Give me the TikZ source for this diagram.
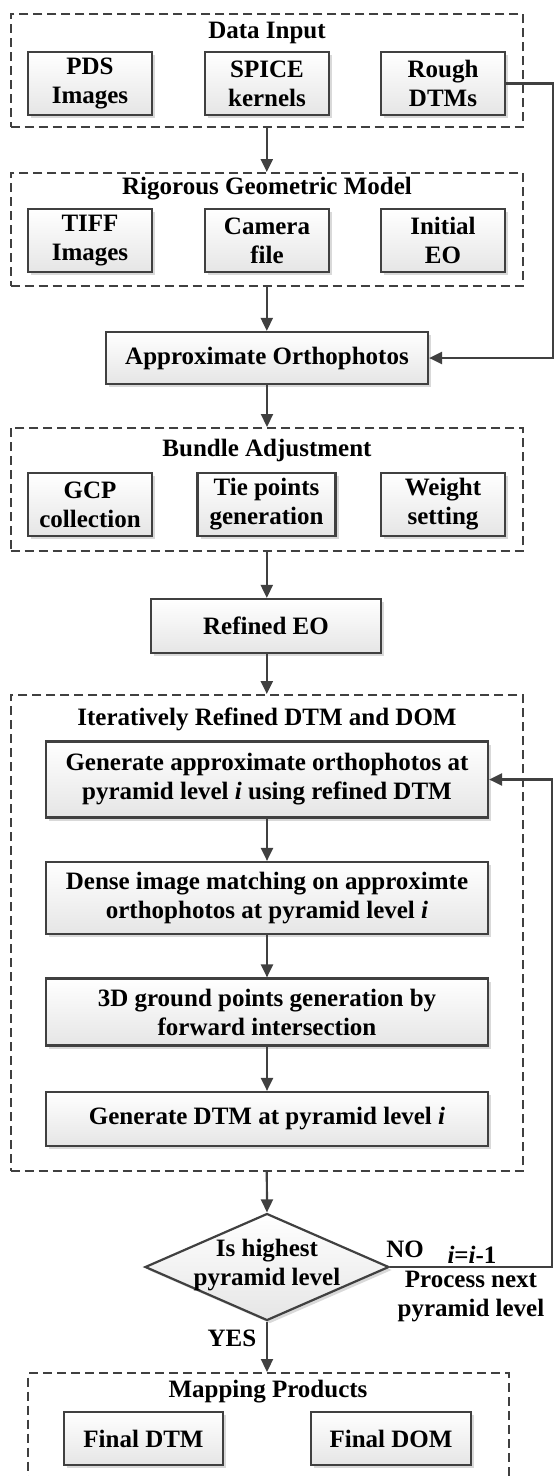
\documentclass[tikz,border=0pt]{standalone}
\usepackage{fontspec}
\setmainfont{Liberation Serif}
\usetikzlibrary{arrows.meta,shadows,shapes.geometric}
\definecolor{edge}{HTML}{404040}
\tikzset{
  box/.style={draw=edge, line width=2.2pt, top color=white, bottom color=black!10,
    drop shadow={shadow xshift=3pt, shadow yshift=-3pt, fill=black!15, opacity=1},
    align=center, inner sep=2pt, font=\bfseries\fontsize{25}{29}\selectfont},
  group/.style={draw=edge, line width=2pt, dash pattern=on 9pt off 5pt},
  ttl/.style={font=\bfseries\fontsize{25}{29}\selectfont, inner sep=0pt},
  lbl/.style={font=\bfseries\fontsize{25}{29}\selectfont, inner sep=0pt, align=center},
  arr/.style={draw=edge, line width=2.2pt, -{Triangle[length=13pt,width=12pt]}},
}
\begin{document}
\begin{tikzpicture}[x=1pt,y=-1pt]
\useasboundingbox (0,0) rectangle (555,1476);
\clip (0,0) rectangle (555,1476);
% Data Input
\node[group, minimum width=512.4pt, minimum height=113pt] (gIn) at (266.8,70.5) {};
\node[ttl] (tIn) at (267,33) {Data Input};
\node[box, minimum width=124pt, minimum height=63pt] (pds) at (90,83.5) {PDS\\Images};
\node[box, minimum width=124pt, minimum height=63pt] (spice) at (267,83.5) {SPICE\\kernels};
\node[box, minimum width=124pt, minimum height=63pt] (rough) at (443,83.5) {Rough\\DTMs};
% Rigorous
\node[group, minimum width=512.4pt, minimum height=113pt] (gRig) at (266.8,229.5) {};
\node[ttl] (tRig) at (267,189) {Rigorous Geometric Model};
\node[box, minimum width=124pt, minimum height=63pt] (tiff) at (90,240.5) {TIFF\\Images};
\node[box, minimum width=124pt, minimum height=63pt] (cam) at (267,240.5) {Camera\\file};
\node[box, minimum width=124pt, minimum height=63pt] (ieo) at (443,240.5) {Initial\\EO};
% Approx
\node[box, minimum width=322pt, minimum height=52pt] (approx) at (267,358) {Approximate Orthophotos};
% Bundle
\node[group, minimum width=512.4pt, minimum height=123pt] (gBun) at (266.8,489.5) {};
\node[ttl] (tBun) at (267,450) {Bundle Adjustment};
\node[box, minimum width=124pt, minimum height=63pt] (gcp) at (90,504.5) {GCP\\collection};
\node[box, minimum width=138pt, minimum height=63pt] (tie) at (266.5,504.5) {Tie points\\generation};
\node[box, minimum width=124pt, minimum height=63pt] (wgt) at (443,504.5) {Weight\\setting};
% Refined EO
\node[box, minimum width=230pt, minimum height=54pt] (reo) at (266,626) {Refined EO};
% Iterative
\node[group, minimum width=512.4pt, minimum height=476pt] (gIt) at (266.8,933) {};
\node[ttl] (tIt) at (267,719) {Iteratively Refined DTM and DOM};
\node[box, minimum width=442pt, minimum height=76pt] (gen) at (267,779.5) {Generate approximate orthophotos at\\pyramid level \textit{i} using refined DTM};
\node[box, minimum width=442pt, minimum height=72pt] (dense) at (267,898) {Dense image matching on approximte\\orthophotos at pyramid level \textit{i}};
\node[box, minimum width=442pt, minimum height=67pt] (gp) at (267,1012) {3D ground points generation by\\forward intersection};
\node[box, minimum width=442pt, minimum height=54pt] (gdtm) at (267,1119) {Generate DTM at pyramid level \textit{i}};
% Decision
\node[draw=edge, line width=2.2pt, diamond, aspect=2.28, inner sep=0pt,
  minimum width=244pt, minimum height=107pt, top color=white, bottom color=black!10,
  drop shadow={shadow xshift=3pt, shadow yshift=-3pt, fill=black!15, opacity=1}] (dec) at (267,1267) {};
\node[lbl] (dect) at (267,1265) {Is highest\\pyramid level};
\node[lbl] (no) at (405,1249) {NO};
\node[lbl] (ii) at (472,1255) {\textit{i}=\textit{i}-1};
\node[lbl] (pn) at (471,1296) {Process next\\pyramid level};
\node[lbl] (yes) at (232,1338) {YES};
% Mapping
\node[group, minimum width=480.7pt, minimum height=140pt] (gMap) at (268.6,1443) {};
\node[ttl] (tMap) at (268,1392) {Mapping Products};
\node[box, minimum width=159pt, minimum height=53pt] (fdtm) at (143.5,1438.5) {Final DTM};
\node[box, minimum width=160pt, minimum height=53pt] (fdom) at (391,1438.5) {Final DOM};
% connectors
\coordinate (rx) at (553,84);
\draw[arr] (rough.east) -- (rough.east -| rx) |- (approx.east);
\draw[arr] (gIn.south) -- (gRig.north);
\draw[arr] (gRig.south) -- (approx.north -| gRig.south);
\draw[arr] (approx.south) -- (approx.south |- gBun.north);
\draw[arr] (gBun.south) -- (gBun.south |- reo.north);
\draw[arr] (reo.south -| gIt.north) -- (gIt.north);
\draw[arr] (gen.south) -- (dense.north);
\draw[arr] (dense.south) -- (gp.north);
\draw[arr] (gp.south) -- (gdtm.north);
\draw[arr] (gIt.south) -- (dec.north);
\draw[arr] (dec.south) -- (dec.south |- gMap.north);
\coordinate (lx) at (552,1267);
\draw[arr] (dec.east) -- (dec.east -| lx) |- (gen.east);
\end{tikzpicture}
\end{document}
